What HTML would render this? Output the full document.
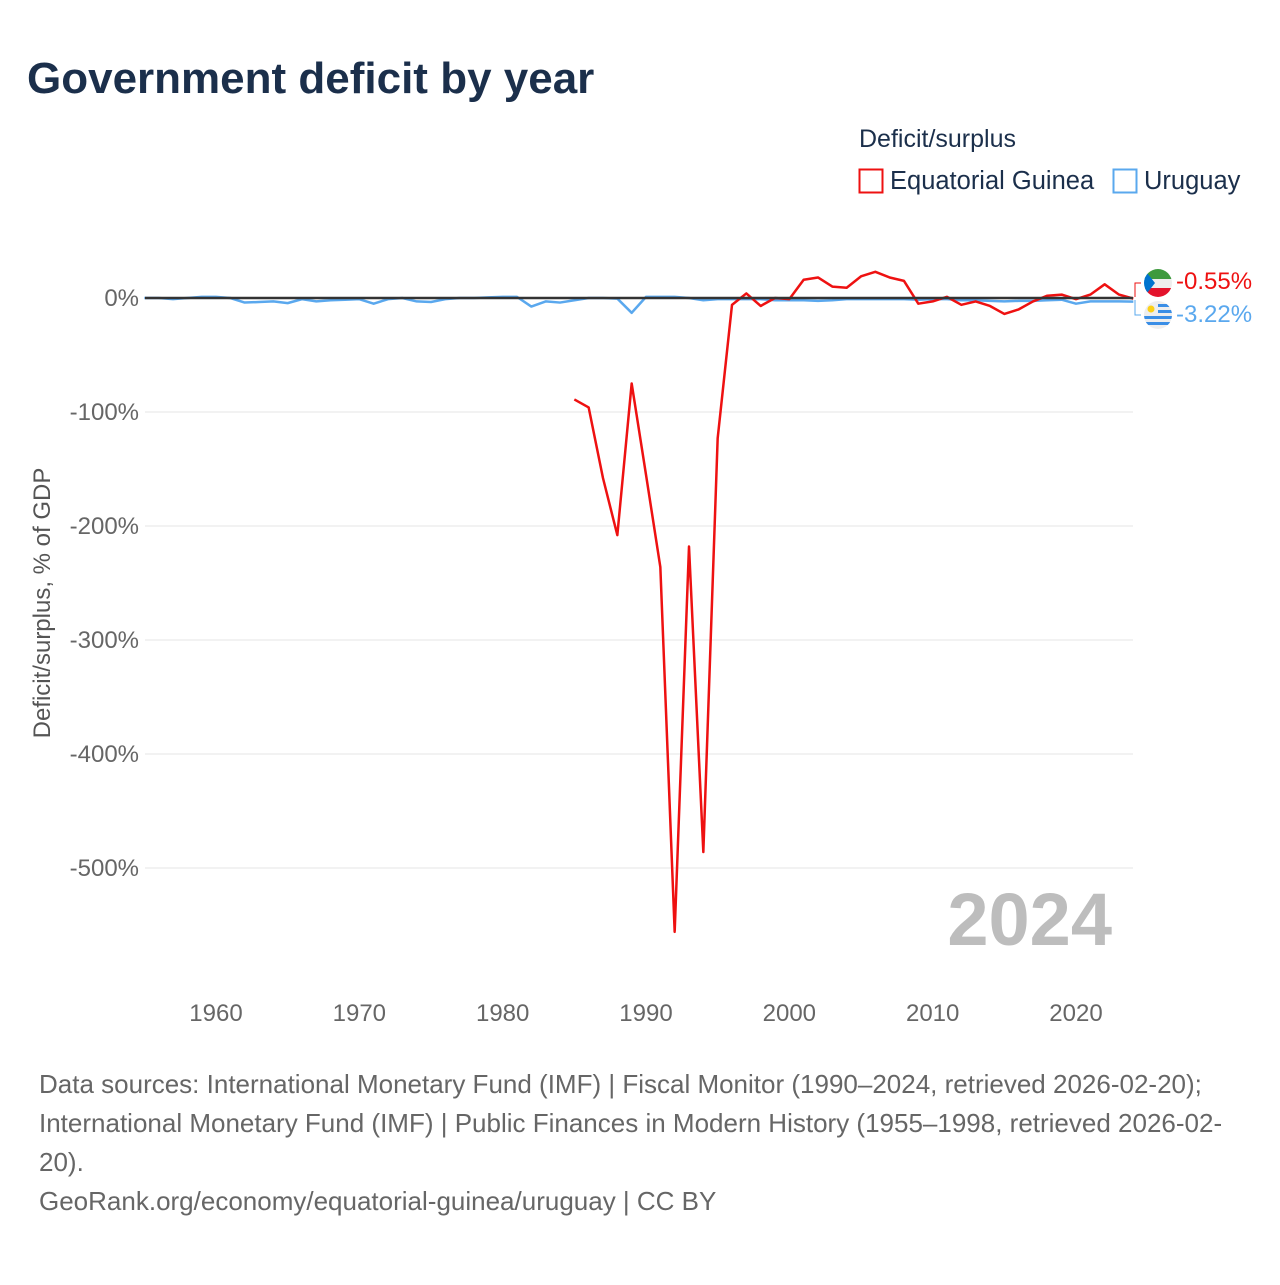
<!DOCTYPE html>
<html><head><meta charset="utf-8">
<style>
body{margin:0;background:#fff;font-family:"Liberation Sans",sans-serif;}
#wrap{position:relative;width:1280px;height:1280px;}
</style></head>
<body><div id="wrap">
<svg id="svg" width="1280" height="1280" xmlns="http://www.w3.org/2000/svg">
<text x="27" y="93" font-size="44" font-weight="bold" fill="#1b2f4b">Government deficit by year</text>
<text x="859" y="147" font-size="25" fill="#1b2f4b">Deficit/surplus</text>
<g>
<rect x="859.5" y="169.5" width="23" height="23" fill="none" stroke="#ee1111" stroke-width="2"/>
<text x="890" y="189" font-size="25.5" fill="#1b2f4b">Equatorial Guinea</text></g>
<g>
<rect x="1113.5" y="169.5" width="23" height="23" fill="none" stroke="#5aa8ee" stroke-width="2"/>
<text x="1144" y="189" font-size="25.5" fill="#1b2f4b">Uruguay</text></g>
<g id="grid"></g><g id="series"></g>
<text x="1112" y="945" font-size="74" font-weight="bold" fill="#bdbdbd" text-anchor="end">2024</text>
<text transform="translate(50,603) rotate(-90)" font-size="24" fill="#555" text-anchor="middle">Deficit/surplus, % of GDP</text>
<g>
<clipPath id="c1"><circle cx="1158" cy="283" r="14"/></clipPath>
<g clip-path="url(#c1)"><rect x="1144" y="269" width="28" height="10" fill="#3e9a3e"/><rect x="1144" y="279" width="28" height="9" fill="#eee"/><rect x="1144" y="288" width="28" height="10" fill="#e3132c"/><polygon points="1144,269 1155,283 1144,297" fill="#0073ce"/></g></g>
<g>
<clipPath id="c2"><circle cx="1158" cy="315" r="14"/></clipPath>
<g clip-path="url(#c2)"><rect x="1144" y="301" width="28" height="28" fill="#eee"/>
<rect x="1158" y="304" width="14" height="3" fill="#3a8ee6"/><rect x="1158" y="310" width="14" height="3" fill="#3a8ee6"/><rect x="1144" y="316" width="28" height="3" fill="#3a8ee6"/><rect x="1144" y="322" width="28" height="3" fill="#3a8ee6"/>
<circle cx="1151" cy="309" r="3.5" fill="#fcd116"/></g></g>
<path d="M1135 297 V283 H1141" fill="none" stroke="#ee1111" stroke-width="1"/>
<path d="M1135 300 V315 H1141" fill="none" stroke="#5aa8ee" stroke-width="1"/>
<text x="1176" y="289" font-size="24" fill="#ee1111">-0.55%</text>
<text x="1176" y="322" font-size="24" fill="#5aa8ee">-3.22%</text>
<text font-size="26" fill="#666">
<tspan x="39" y="1093">Data sources: International Monetary Fund (IMF) | Fiscal Monitor (1990–2024, retrieved 2026-02-20);</tspan>
<tspan x="39" y="1132">International Monetary Fund (IMF) | Public Finances in Modern History (1955–1998, retrieved 2026-02-</tspan>
<tspan x="39" y="1171">20).</tspan>
<tspan x="39" y="1210">GeoRank.org/economy/equatorial-guinea/uruguay | CC BY</tspan></text>
</svg></div>
<script>
const yTicks=[0,-100,-200,-300,-400,-500];
const xTicks=[1960,1970,1980,1990,2000,2010,2020];
const eqYears=[1985,1986,1987,1988,1989,1990,1991,1992,1993,1994,1995,1996,1997,1998,1999,2000,2001,2002,2003,2004,2005,2006,2007,2008,2009,2010,2011,2012,2013,2014,2015,2016,2017,2018,2019,2020,2021,2022,2023,2024];
const eqValues=[-89,-96,-158,-208,-75,-155,-236,-556,-218,-486,-123,-6,4,-7,0,-1,16,18,10,9,19,23,18,15,-5,-3,1,-6,-3,-7,-14,-10,-3,2,3,-1,3,12,3,-0.55];
const uyYears=[];for(let y=1955;y<=2024;y++)uyYears.push(y);
const uyValues=[0,0,-1,0,1,1,0,-4,-3.5,-3,-4.5,-1,-3,-2,-1.5,-1,-5,-1,0,-3,-3.5,-1,0,0,0.5,1,1,-7.5,-3,-4,-2,0,0,-0.5,-13,1,1,1,0,-2,-1,-1,-1,-1,-2,-2,-2,-2.5,-2,-1,-1,-1,-1,-1,-1.5,-1,-1,-2,-2,-2.5,-3,-2.5,-2.5,-2,-1.5,-5,-3,-3,-3,-3.22];
const X=y=>216+(y-1960)*(1076-216)/60;
const Y=v=>298-v*1.14;
const NS="http://www.w3.org/2000/svg";
const grid=document.getElementById('grid'),series=document.getElementById('series');
yTicks.forEach(t=>{
 const l=document.createElementNS(NS,'line');
 
 
 l.setAttribute('x1',145);l.setAttribute('x2',1133);l.setAttribute('y1',Y(t));l.setAttribute('y2',Y(t));
 l.setAttribute('stroke','#e6e6e6');l.setAttribute('stroke-width','1');grid.appendChild(l);
 const tx=document.createElementNS(NS,'text');
 
 
 tx.setAttribute('x',139);tx.setAttribute('y',Y(t)+8);tx.setAttribute('text-anchor','end');
 tx.setAttribute('font-size','24');tx.setAttribute('fill','#666');tx.textContent=t+'%';grid.appendChild(tx);
});
xTicks.forEach(t=>{
 const tx=document.createElementNS(NS,'text');
 
 
 tx.setAttribute('x',X(t));tx.setAttribute('y',1021);tx.setAttribute('text-anchor','middle');
 tx.setAttribute('font-size','24');tx.setAttribute('fill','#666');tx.textContent=t;grid.appendChild(tx);
});
function line(xs,vs,color,name){
 const p=document.createElementNS(NS,'polyline');
 
 
 p.setAttribute('points',xs.map((y,i)=>X(y)+','+Y(vs[i])).join(' '));
 p.setAttribute('fill','none');p.setAttribute('stroke',color);p.setAttribute('stroke-width','2.5');
 p.setAttribute('stroke-linejoin','round');series.appendChild(p);
}
line(uyYears,uyValues,'#5aa8ee','line-uruguay');
line(eqYears,eqValues,'#ee1111','line-equatorial-guinea');
const z=document.createElementNS(NS,'line');


z.setAttribute('x1',145);z.setAttribute('x2',1133);z.setAttribute('y1',Y(0));z.setAttribute('y2',Y(0));
z.setAttribute('stroke','#333');z.setAttribute('stroke-width','2.5');series.appendChild(z);
</script>
</body></html>
